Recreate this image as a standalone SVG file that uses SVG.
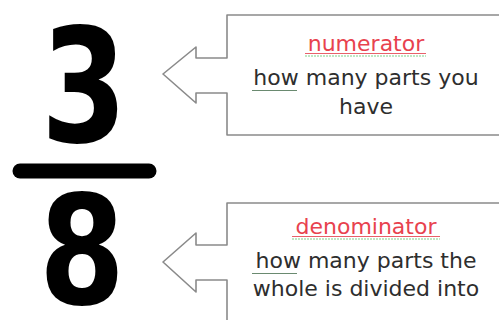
<svg xmlns="http://www.w3.org/2000/svg" width="499" height="320" viewBox="0 0 499 320">
<style>
.digit{font-family:"DejaVu Sans",sans-serif;font-weight:bold;fill:#000;text-anchor:middle}
.callout{fill:#fff;stroke:#8a8a8a;stroke-width:1.6;stroke-linejoin:round}
.t{font-family:"DejaVu Sans",sans-serif;font-size:22px;fill:#2e2e2e;text-anchor:middle}
.term{fill:#e8424e}
.red{stroke:#e8606a;stroke-width:1}
.grn{stroke:#7fcf8a;stroke-width:1.2;stroke-dasharray:2 1}
.gry{stroke:#6a8a70;stroke-width:1.2}
</style>
<rect width="499" height="320" fill="#fff"/>
<g id="fraction">
  <text class="digit" font-size="158" x="84" y="142" textLength="86" lengthAdjust="spacingAndGlyphs">3</text>
  <line x1="20" y1="171" x2="149" y2="171" stroke="#000" stroke-width="15" stroke-linecap="round"/>
  <text class="digit" font-size="151" x="82" y="304" textLength="86" lengthAdjust="spacingAndGlyphs">8</text>
</g>
<g id="connectors">
  <path class="callout" d="M 510 15 H 227 V 58 H 196 V 47 L 163 74 L 196 103 V 93 H 227 V 135 H 510"/>
  <path class="callout" d="M 510 203 H 227 V 245 H 196 V 233 L 163 262 L 196 292 V 280 H 227 V 330"/>
</g>
<g id="numerator">
  <text class="t term" x="366" y="51">numerator</text>
  <line class="red" x1="305" y1="53.5" x2="426" y2="53.5"/>
  <line class="grn" x1="305" y1="56" x2="426" y2="56"/>
  <text class="t" x="366" y="85">how many parts you</text>
  <line class="gry" x1="252" y1="90.5" x2="297" y2="90.5"/>
  <text class="t" x="366" y="114">have</text>
</g>
<g id="denominator">
  <text class="t term" x="366" y="234">denominator</text>
  <line class="red" x1="292" y1="236.5" x2="440" y2="236.5"/>
  <line class="grn" x1="292" y1="239" x2="440" y2="239"/>
  <text class="t" x="366" y="268">how many parts the</text>
  <line class="gry" x1="252" y1="273.5" x2="297" y2="273.5"/>
  <text class="t" x="366" y="296">whole is divided into</text>
</g>
</svg>
